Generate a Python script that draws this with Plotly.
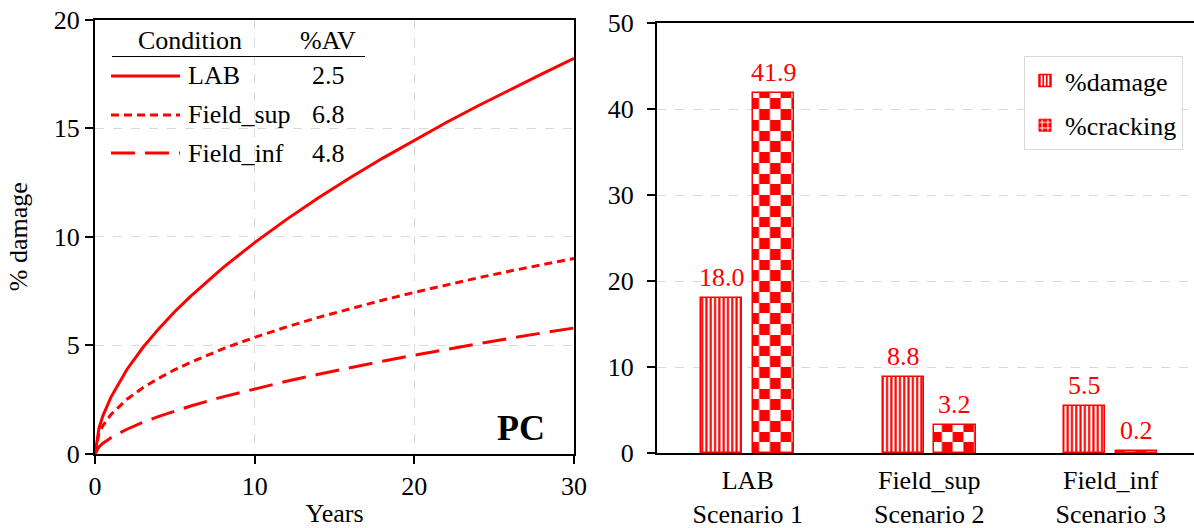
import math
import plotly.graph_objects as go

# ---------------- data ----------------
years = [0, 0.25, 0.5, 1, 2, 3, 4, 5, 6, 8, 10, 12, 14, 16, 18, 20, 22, 24, 26, 28, 30]
damage_lab = [0, 1.19, 1.77, 2.62, 3.89, 4.90, 5.77, 6.56, 7.27, 8.57, 9.73, 10.80,
              11.79, 12.73, 13.61, 14.45, 15.26, 16.03, 16.78, 17.50, 18.21]
damage_field_sup = [0, 0.95, 1.31, 1.82, 2.52, 3.05, 3.49, 3.88, 4.22, 4.84, 5.37, 5.85,
                    6.29, 6.70, 7.08, 7.44, 7.78, 8.11, 8.42, 8.71, 9.00]
damage_field_inf = [0, 0.33, 0.50, 0.75, 1.14, 1.46, 1.73, 1.98, 2.21, 2.63, 3.00, 3.35,
                    3.67, 3.98, 4.27, 4.55, 4.82, 5.08, 5.33, 5.57, 5.80]

conditions = ["LAB", "Field_sup", "Field_inf"]
air_voids = ["2.5", "6.8", "4.8"]

scenarios = ["LAB<br>Scenario 1", "Field_sup<br>Scenario 2", "Field_inf<br>Scenario 3"]
pct_damage = [18.0, 8.8, 5.5]
pct_cracking = [41.9, 3.2, 0.2]

# ---------------- styling ----------------
W, H = 1194, 528
RED = "#ff0000"
FONT = "Liberation Serif, Times New Roman, serif"
FS = 26
GRID = "#d9d9d9"


def fx(px):
    return px / W


def fy(py):
    return 1 - py / H


fig = go.Figure()

# ---- left panel: damage evolution curves ----
curve_styles = [("solid", damage_lab), ("8px,5px", damage_field_sup), ("24px,10px", damage_field_inf)]
for name, (dash, vals) in zip(conditions, curve_styles):
    fig.add_trace(go.Scatter(x=years, y=vals, mode="lines", name=name, showlegend=False,
                             line=dict(color=RED, width=3, dash=dash),
                             xaxis="x", yaxis="y"))

# ---- right panel: bars ----
BAR_W = 0.226
OFF_D = -0.255
OFF_C = 0.029

fig.add_trace(go.Bar(
    x=scenarios, y=pct_damage, name="%damage", legendgroup="d",
    width=BAR_W, offset=OFF_D,
    marker=dict(color="white", line=dict(color=RED, width=1.5),
                pattern=dict(shape="|", fgcolor=RED, bgcolor="white", size=4.3, solidity=0.5)),
    xaxis="x2", yaxis="y2"))

# checkerboard fill for %cracking: alternating rows of inverted stripes
ROW = 1.25
rows = {0: ([], [], []), 1: ([], [], [])}
for cat, v in zip(scenarios, pct_cracking):
    n = math.ceil(v / ROW - 1e-9)
    for k in range(n):
        base = k * ROW
        xs, bs, hs = rows[k % 2]
        xs.append(cat)
        bs.append(base)
        hs.append(min(ROW, v - base))

for parity, (fg, bg) in {0: (RED, "white"), 1: ("white", RED)}.items():
    xs, bs, hs = rows[parity]
    fig.add_trace(go.Bar(
        x=xs, y=hs, base=bs, width=BAR_W, offset=OFF_C, showlegend=False,
        marker=dict(color=bg, line=dict(width=0),
                    pattern=dict(shape="|", fgcolor=fg, bgcolor=bg, size=2 * 10.75, solidity=0.5)),
        xaxis="x2", yaxis="y2"))

# outline of the %cracking bars
fig.add_trace(go.Bar(
    x=scenarios, y=pct_cracking, width=BAR_W, offset=OFF_C, showlegend=False,
    marker=dict(color="rgba(0,0,0,0)", line=dict(color=RED, width=1.5)),
    xaxis="x2", yaxis="y2"))

# legend entry for %cracking
fig.add_trace(go.Bar(
    x=[scenarios[0]], y=[None], name="%cracking", legendgroup="c",
    width=BAR_W, offset=OFF_C,
    marker=dict(color=RED, line=dict(color=RED, width=1),
                pattern=dict(shape="+", fgcolor="white", bgcolor=RED, size=7, solidity=0.35)),
    xaxis="x2", yaxis="y2"))

# ---------------- annotations ----------------
annotations = []
for i, (d, c) in enumerate(zip(pct_damage, pct_cracking)):
    for val, off in ((d, OFF_D), (c, OFF_C)):
        annotations.append(dict(x=i + off + BAR_W / 2, y=val, xref="x2", yref="y2",
                                text=f"{val:.1f}", showarrow=False,
                                xanchor="center", yanchor="bottom", yshift=4,
                                font=dict(family=FONT, size=FS, color=RED)))


def paper_text(px, py, text, xanchor="center", size=FS):
    return dict(x=fx(px), y=fy(py), xref="paper", yref="paper", text=text,
                xanchor=xanchor, yanchor="middle", showarrow=False,
                font=dict(family=FONT, size=size, color="black"))


annotations.append(paper_text(521, 428, "<b>PC</b>", size=36))

# table legend of the left panel
annotations.append(paper_text(190, 40, "Condition"))
annotations.append(paper_text(328, 40, "%AV"))
row_y = [76, 115, 153]
for name, av, ry in zip(conditions, air_voids, row_y):
    annotations.append(paper_text(186, ry, name, xanchor="left"))
    annotations.append(paper_text(328, ry, av))

shapes = [dict(type="line", xref="paper", yref="paper", x0=fx(112), x1=fx(365),
               y0=fy(56.5), y1=fy(56.5), line=dict(color="black", width=1))]
for (dash, _), ry in zip(curve_styles, row_y):
    shapes.append(dict(type="line", xref="paper", yref="paper", x0=fx(111), x1=fx(180),
                       y0=fy(ry), y1=fy(ry), line=dict(color=RED, width=3, dash=dash)))

axis_common = dict(showline=True, linecolor="black", linewidth=2, ticks="outside", ticklen=8,
                   tickwidth=1.5, tickcolor="black", zeroline=False, automargin=False,
                   tickfont=dict(family=FONT, size=FS, color="black"))

fig.update_layout(
    template="none",
    width=W, height=H, margin=dict(l=0, r=0, t=0, b=0, pad=0),
    paper_bgcolor="white", plot_bgcolor="white",
    barmode="overlay", bargap=0,
    font=dict(family=FONT, size=FS, color="black"),
    xaxis=dict(domain=[fx(95), fx(574)], range=[0, 30], tickvals=[0, 10, 20, 30], mirror=True,
               showgrid=True, gridcolor=GRID, griddash="dash", gridwidth=1,
               title=dict(text="Years", font=dict(family=FONT, size=FS), standoff=4),
               anchor="y", **axis_common),
    yaxis=dict(domain=[fy(454), fy(19.5)], range=[0, 20], tickvals=[0, 5, 10, 15, 20], mirror=True,
               showgrid=True, gridcolor=GRID, griddash="dash", gridwidth=1,
               title=dict(text="% damage", font=dict(family=FONT, size=FS), standoff=19),
               anchor="x", **axis_common),
    xaxis2=dict(domain=[fx(657), 1.0], range=[-0.5, 2.459], type="category", mirror=True,
                showline=True, linecolor="black", linewidth=2, ticks="", showgrid=False,
                automargin=False, ticklabelstandoff=3,
                tickfont=dict(family=FONT, size=FS, color="black"), anchor="y2"),
    yaxis2=dict(domain=[fy(453), fy(23)], range=[0, 50], tickvals=[0, 10, 20, 30, 40, 50],
                showline=True, linecolor="black", linewidth=2, ticks="outside", ticklen=8,
                tickwidth=1.5, tickcolor="black", zeroline=False, ticklabelstandoff=8,
                automargin=False,
                showgrid=True, gridcolor=GRID, griddash="dash", gridwidth=1,
                tickfont=dict(family=FONT, size=FS, color="black"), anchor="x2"),
    legend=dict(x=fx(1024), y=fy(56), xanchor="left", yanchor="top",
                bgcolor="white", bordercolor=GRID, borderwidth=1,
                font=dict(family=FONT, size=FS, color="black"),
                tracegroupgap=8, traceorder="grouped"),
    annotations=annotations,
    shapes=shapes,
)

fig.write_html("out.html")
